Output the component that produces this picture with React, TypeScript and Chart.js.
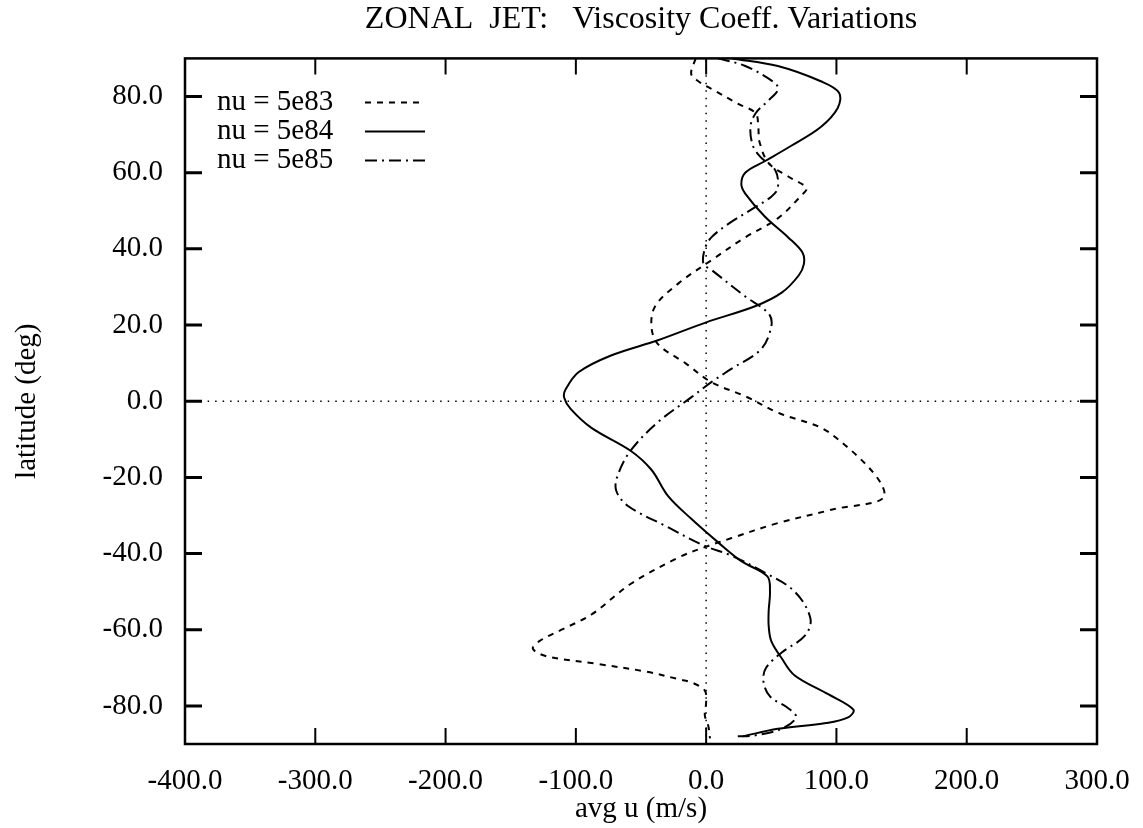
import React, { useEffect, useRef } from "react";
import { Chart, registerables } from "chart.js";

Chart.register(...registerables);

const TITLE = "ZONAL  JET:   Viscosity Coeff. Variations";
const X_TITLE = "avg u (m/s)";
const Y_TITLE = "latitude (deg)";
const X_TICKS = [-400, -300, -200, -100, 0, 100, 200, 300];
const Y_TICKS = [-80, -60, -40, -20, 0, 20, 40, 60, 80];
const SERIES_LABELS = ["nu = 5e83", "nu = 5e84", "nu = 5e85"];

// nu = 5e83 (dashed)
const LAT_5E83 = [90, 86, 84, 82, 78, 75.6, 72, 68, 62.5, 59, 56, 54, 48, 43, 37, 31, 25, 19.6, 15, 10, 5, 1.3, -3, -8.6, -24.5, -28.5, -32, -36, -38, -41, -48, -56, -60, -63, -65, -67, -69, -71, -73, -74, -76, -79, -82.5, -85, -88.5];
const U_5E83 = [-8, -11.5, -6, 4, 25, 38, 40, 41, 48, 63, 77, 73, 55, 30, 4, -21, -39, -42, -37, -16, 4, 30, 55, 96, 137, 96, 55, 19, 1.5, -21, -58, -88, -111, -128, -133, -122, -83, -46, -21, -10, -1, 0, -1, 1.5, 3];

// nu = 5e84 (solid)
const LAT_5E84 = [90, 88, 84, 81, 77, 72, 67, 63, 60, 57, 54.5, 48.5, 43, 39, 36, 33, 28.5, 25, 20.7, 16, 12, 7.6, 3, 1, -2, -7, -13, -18, -25, -31, -37, -42, -46, -50, -55, -59, -63, -67.5, -72, -77, -81, -83, -84.5, -86, -88];
const U_5E84 = [20, 55, 88, 102, 101, 88, 65, 45, 30, 27, 30, 45, 63, 74, 75, 71, 58, 38, 0, -37, -73, -98, -108, -109, -104, -88, -58, -42, -29, -11, 9, 27, 47, 49, 48, 48, 50, 58, 68, 94, 113, 109, 92, 55, 28];

// nu = 5e85 (dash-dot)
const LAT_5E85 = [90, 88, 83.5, 81.7, 79, 75.6, 72, 67, 64, 60.7, 56, 53.7, 51, 47, 43, 40, 36, 34.5, 27.5, 23, 19.6, 13.6, 8.4, 5, 1, -5.5, -13, -19.6, -23.5, -27.5, -32.7, -38, -40.5, -45, -50, -57, -61.5, -66, -70, -73.6, -77.5, -80.6, -83, -86, -87.7, -88];
const U_5E85 = [9, 30, 53, 55, 48, 38, 34, 36, 42, 53, 55, 50, 38, 19, 4, -1, -2, 4, 30, 48, 50, 42, 19, 4, -11.5, -37, -58, -68, -69, -60, -31.5, -1, 19, 45, 68, 80, 76, 58, 46, 44, 49, 63, 69, 58, 38, 23];

const ZERO_LAT_LINE_U = [-400, 300];
const ZERO_U_LINE_LAT = [-90, 90];

const FONT = "Liberation Serif";
const DASHES = [[6, 6], [], [12, 5, 2, 5]];

function toPoints(us: number[], lats: number[]) {
  return us.map((u, i) => ({ x: u, y: lats[i] }));
}

const framePlugin = {
  id: "frameTicks",
  afterDatasetsDraw(chart: any) {
    const { ctx, chartArea } = chart;
    const { left, right, top, bottom } = chartArea;
    const xs = chart.scales.x;
    const ys = chart.scales.y;
    ctx.save();
    ctx.strokeStyle = "#000";
    ctx.setLineDash([]);
    ctx.lineWidth = 2.5;
    ctx.strokeRect(left, top, right - left, bottom - top);
    ctx.lineWidth = 3;
    Y_TICKS.forEach((v) => {
      const py = ys.getPixelForValue(v);
      ctx.beginPath();
      ctx.moveTo(left, py);
      ctx.lineTo(left + 17, py);
      ctx.moveTo(right, py);
      ctx.lineTo(right - 17, py);
      ctx.stroke();
    });
    ctx.lineWidth = 2;
    X_TICKS.forEach((v) => {
      const px = xs.getPixelForValue(v);
      ctx.beginPath();
      ctx.moveTo(px, bottom);
      ctx.lineTo(px, bottom - 16);
      ctx.moveTo(px, top);
      ctx.lineTo(px, top + 16);
      ctx.stroke();
    });
    ctx.font = `29px "${FONT}"`;
    ctx.fillStyle = "#000";
    ctx.textBaseline = "middle";
    ctx.textAlign = "left";
    SERIES_LABELS.forEach((lab, i) => {
      const y = top + 44 + i * 29;
      ctx.fillText(lab, left + 32, y);
      ctx.beginPath();
      ctx.lineWidth = 2;
      ctx.setLineDash(DASHES[i]);
      ctx.moveTo(left + 180, y);
      ctx.lineTo(left + 240, y);
      ctx.stroke();
    });
    ctx.restore();
  },
};

export default function App() {
  const ref = useRef<HTMLCanvasElement | null>(null);

  useEffect(() => {
    if (!ref.current) return;
    const lineDs = (label: string, data: any[], dash: number[], width = 2) => ({
      label,
      data,
      borderColor: "#000",
      backgroundColor: "#000",
      borderWidth: width,
      borderDash: dash,
      pointRadius: 0,
      tension: 0.35,
      fill: false,
    });
    const chart = new Chart(ref.current, {
      type: "line",
      data: {
        datasets: [
          lineDs("zero-u", ZERO_U_LINE_LAT.map((la) => ({ x: 0, y: la })), [1.5, 6], 1.5),
          lineDs("zero-lat", ZERO_LAT_LINE_U.map((u) => ({ x: u, y: 0 })), [1.5, 6], 1.5),
          lineDs(SERIES_LABELS[0], toPoints(U_5E83, LAT_5E83), DASHES[0]),
          lineDs(SERIES_LABELS[1], toPoints(U_5E84, LAT_5E84), DASHES[1]),
          lineDs(SERIES_LABELS[2], toPoints(U_5E85, LAT_5E85), DASHES[2]),
        ],
      },
      options: {
        responsive: false,
        animation: false,
        layout: { padding: { left: 0, right: 46, top: 0, bottom: 0 } },
        plugins: {
          legend: { display: false },
          tooltip: { enabled: false },
          title: {
            display: true,
            text: TITLE,
            fullSize: false,
            color: "#000",
            font: { family: FONT, size: 32, weight: "normal" },
            padding: { top: 0, bottom: 20 },
          },
        },
        scales: {
          x: {
            type: "linear",
            min: -400,
            max: 300,
            grid: { display: false, drawTicks: false },
            border: { display: false },
            afterBuildTicks: (s: any) => {
              s.ticks = X_TICKS.map((v) => ({ value: v }));
            },
            afterFit: (s: any) => {
              s.height = 84;
              s.paddingRight = 0;
              s.paddingLeft = 0;
            },
            ticks: {
              autoSkip: false,
              maxRotation: 0,
              padding: 20,
              color: "#000",
              font: { family: FONT, size: 29 },
              callback: (v: any) => Number(v).toFixed(1),
            },
            title: {
              display: true,
              text: X_TITLE,
              color: "#000",
              font: { family: FONT, size: 29 },
              padding: { top: 0, bottom: 1 },
            },
          },
          y: {
            type: "linear",
            min: -90,
            max: 90,
            grid: { display: false, drawTicks: false },
            border: { display: false },
            afterBuildTicks: (s: any) => {
              s.ticks = Y_TICKS.map((v) => ({ value: v }));
            },
            afterFit: (s: any) => {
              s.width = 185;
            },
            ticks: {
              autoSkip: false,
              padding: 22,
              color: "#000",
              font: { family: FONT, size: 29 },
              callback: (v: any) => Number(v).toFixed(1),
            },
            title: {
              display: true,
              text: Y_TITLE,
              color: "#000",
              font: { family: FONT, size: 29 },
              padding: { top: 10, bottom: 0 },
            },
          },
        },
      },
      plugins: [framePlugin],
    });
    return () => chart.destroy();
  }, []);

  return (
    <div style={{ position: "fixed", left: 0, top: 0, width: 1143, height: 828, background: "#fff" }}>
      <canvas ref={ref} width={1143} height={828} />
    </div>
  );
}
